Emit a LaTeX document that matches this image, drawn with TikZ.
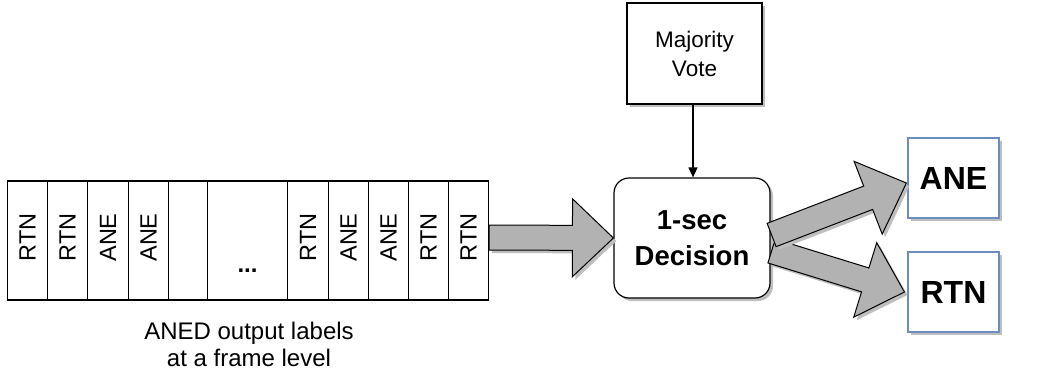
\documentclass[tikz,border=0pt]{standalone}
\usepackage{fontspec}
\setmainfont{Liberation Sans}
\usetikzlibrary{calc,shadows,arrows.meta}
\definecolor{arrgray}{RGB}{178,178,178}
\definecolor{boxblue}{RGB}{108,142,191}
\definecolor{shadowgray}{RGB}{190,190,190}
\tikzset{
  shad/.style={drop shadow={shadow xshift=3pt,shadow yshift=-3pt,fill=shadowgray,opacity=1}},
  cell/.style={draw,line width=1.1pt,minimum height=119pt,inner sep=0pt,anchor=west},
  celltext/.style={rotate=90,font=\fontsize{23.5}{26}\selectfont},
  plainbox/.style={draw,line width=1.3pt,fill=white,shad,inner sep=0pt,font=\fontsize{22.5}{29}\selectfont,align=center},
  decbox/.style={draw,line width=1.2pt,fill=white,shad,rounded corners=15pt,inner sep=0pt,font=\bfseries\fontsize{27.5}{36}\selectfont,align=center},
  outbox/.style={draw=boxblue,line width=1.2pt,fill=white,shad,inner sep=0pt,font=\bfseries\fontsize{32}{36}\selectfont,minimum width=91pt,minimum height=80pt},
  fatarr/.style={draw,line width=1pt,fill=arrgray,shad,line join=miter},
  thin arrow/.style={draw,line width=1.2pt,-{Triangle[length=10pt,width=9pt]}},
}
\newcommand{\fatarrow}[2]{%
  \path ($(#2)!41pt!(#1)$) coordinate (fah);
  \filldraw[fatarr] ($(#1)!12.5pt!90:(#2)$) -- ($(fah)!12.5pt!90:(#2)$) --
    ($(fah)!39pt!90:(#2)$) -- (#2) -- ($(fah)!39pt!-90:(#2)$) --
    ($(fah)!12.5pt!-90:(#2)$) -- ($(#1)!12.5pt!-90:(#2)$) -- cycle;
}
\begin{document}
\begin{tikzpicture}[x=1pt,y=-1pt]
\useasboundingbox (0,0) rectangle (1054,373);
% table cells
\node[cell,minimum width=40pt] (c1) at (7,240.5) {};
\node[cell,minimum width=40pt] (c2) at (47,240.5) {};
\node[cell,minimum width=41pt] (c3) at (87,240.5) {};
\node[cell,minimum width=40pt] (c4) at (128,240.5) {};
\node[cell,minimum width=39pt] (c5) at (168,240.5) {};
\node[cell,minimum width=80pt] (c6) at (207,240.5) {};
\node[cell,minimum width=41pt] (c7) at (287,240.5) {};
\node[cell,minimum width=40pt] (c8) at (328,240.5) {};
\node[cell,minimum width=40pt] (c9) at (368,240.5) {};
\node[cell,minimum width=40pt] (c10) at (408,240.5) {};
\node[cell,minimum width=40pt] (c11) at (448,240.5) {};
\node[celltext] (t1) at ($(c1.center)+(0,-3)$) {RTN};
\node[celltext] (t2) at ($(c2.center)+(0,-3)$) {RTN};
\node[celltext] (t3) at ($(c3.center)+(0,-3)$) {ANE};
\node[celltext] (t4) at ($(c4.center)+(0,-3)$) {ANE};
\node[font=\bfseries\fontsize{24}{26}\selectfont,anchor=base] (t6) at ($(c6.center)+(0,32)$) {...};
\node[celltext] (t7) at ($(c7.center)+(0,-3)$) {RTN};
\node[celltext] (t8) at ($(c8.center)+(0,-3)$) {ANE};
\node[celltext] (t9) at ($(c9.center)+(0,-3)$) {ANE};
\node[celltext] (t10) at ($(c10.center)+(0,-3)$) {RTN};
\node[celltext] (t11) at ($(c11.center)+(0,-3)$) {RTN};
\node[align=center,font=\fontsize{24}{27}\selectfont,inner sep=0pt] (cap) at (249,344) {ANED output labels\\at a frame level};
% boxes
\node[plainbox,minimum width=135pt,minimum height=101pt] (maj) at (694.5,53.5) {Majority\\Vote};
\node[decbox,minimum width=156pt,minimum height=120pt] (dec) at (692,238) {1-sec\\Decision};
\node[outbox] (ane) at (953.5,178) {ANE};
\node[outbox] (rtn) at (953.5,292) {RTN};
% connectors
\draw[thin arrow] (maj.south -| 693,0) -- (dec.north -| 693,0);
\coordinate (a1s) at ($(c11.east)+(0,-3)$);
\coordinate (a1t) at (dec.west);
\fatarrow{a1s}{a1t}
\coordinate (a2s) at ($(dec.east)+(1,-3)$);
\coordinate (a2t) at ($(ane.west)+(-1,5)$);
\coordinate (a3s) at ($(dec.east)+(1,13)$);
\coordinate (a3t) at ($(rtn.west)+(-3,0)$);
\fatarrow{a3s}{a3t}
\fatarrow{a2s}{a2t}
\end{tikzpicture}
\end{document}
